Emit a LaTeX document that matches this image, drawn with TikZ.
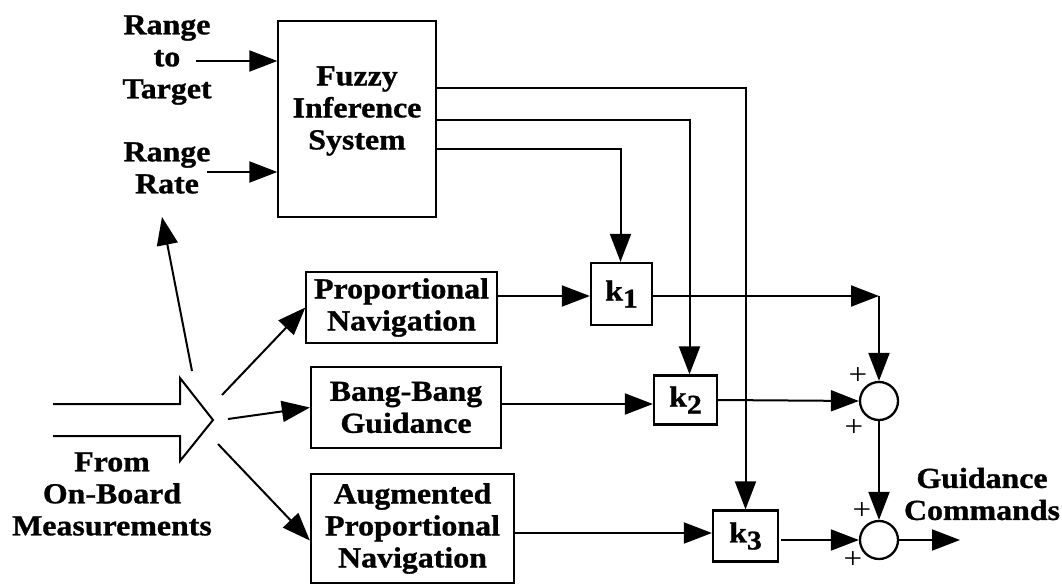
\documentclass[tikz,border=0pt]{standalone}
\usepackage{fontspec}
\setmainfont[FakeStretch=1.1, BoldFeatures={FakeBold=1}]{Liberation Serif}
\usetikzlibrary{arrows.meta,calc}

\newcommand{\kgain}[1]{k\raisebox{-7pt}{\fontsize{27}{27}\selectfont #1}}

\tikzset{
  x=1pt, y=-1pt,
  lbl/.style={font=\fontsize{29}{32}\selectfont\bfseries, align=center, inner sep=0pt},
  thinbox/.style={draw, line width=1.3pt, inner sep=0pt, align=center,
                  font=\fontsize{29}{32}\selectfont\bfseries},
  thickbox/.style={draw, line width=2.3pt, inner sep=0pt, align=center,
                   font=\fontsize{29}{32}\selectfont\bfseries},
  gainbox/.style={draw, line width=2.3pt, inner sep=0pt,
                  font=\fontsize{29}{32}\selectfont\bfseries},
  sumnode/.style={draw, circle, line width=2.3pt, minimum size=38pt, inner sep=0pt},
  plussign/.style={font=\fontsize{30}{30}\selectfont, inner sep=0pt},
  arr/.style={line width=2pt, -{Triangle[length=28pt,width=21pt]}},
}

\begin{document}
\begin{tikzpicture}
\useasboundingbox (0,0) rectangle (1062,585);

% fuzzy inference block
\node[thinbox, minimum width=158pt, minimum height=196pt] (fis) at (357,119) {};
\node[lbl] (fistext) at (357,111) {Fuzzy\\Inference\\System};

% inputs of the fuzzy block
\node[lbl] (rtt) at (167,60) {Range\\to\\Target};
\node[lbl] (rr) at (167,168) {Range\\Rate};
\draw[arr] (196,61) -- (fis.west |- 0,61);
\draw[arr] (207,172) -- (fis.west |- 0,172);

% guidance law blocks
\node[thinbox, minimum width=191pt, minimum height=71pt] (pn) at (401.5,307.5) {Proportional\\Navigation};
\node[thickbox, minimum width=190pt, minimum height=81pt] (bb) at (406,407.5) {Bang-Bang\\Guidance};
\node[thickbox, minimum width=203pt, minimum height=109pt] (apn) at (412.5,528.5) {Augmented\\Proportional\\Navigation};

% gains
\node[gainbox, minimum width=61pt, minimum height=62pt] (k1) at (621.5,294) {\kgain{1}};
\node[gainbox, minimum width=63pt, minimum height=49pt] (k2) at (685.5,400) {\kgain{2}};
\node[gainbox, minimum width=65pt, minimum height=51pt] (k3) at (745.5,536) {\kgain{3}};

% summing junctions
\node[sumnode] (s1) at (879,401) {};
\node[sumnode] (s2) at (879,540) {};
\node[plussign] (p1a) at (858,376) {+};
\node[plussign] (p1b) at (854,428) {+};
\node[plussign] (p2a) at (862,511) {+};
\node[plussign] (p2b) at (853,560) {+};

% measurement input (hollow arrow)
\draw[line width=2pt, line join=miter]
  (53,404) -- (180,404) -- (180,378) -- (213,420) -- (180,461) -- (180,436) -- (53,436);
\coordinate (mUp) at (192,371);
\coordinate (mPN) at (222,395);
\coordinate (mBB) at (228,419);
\coordinate (mAPN) at (218,444);
\coordinate (rrIn) at (162,217);
\node[lbl] (obm) at (112,494) {From\\On-Board\\Measurements};

\draw[arr] (mUp) -- (rrIn);
\draw[arr] (mPN) -- (pn.west);
\draw[arr] (mBB) -- (bb.west);
\draw[arr] (mAPN) -- ($(apn.west)+(0,12)$);

% fuzzy outputs scheduling the gains
\draw[arr, line join=miter] (fis.east |- 0,88) -| (k3.north);
\draw[arr, line join=miter] (fis.east |- 0,120) -| ([xshift=4pt]k2.north);
\draw[arr, line join=miter] (fis.east |- 0,149) -| ([xshift=-1pt]k1.north);

% guidance laws into the gains
\draw[arr] ([xshift=-2pt]pn.east |- 0,296) -- (k1.west |- 0,296);
\draw[arr] (bb.east |- 0,404) -- (k2.west |- 0,404);
\draw[arr] (apn.east |- 0,533) -- (k3.west |- 0,533);

% gains into the summing junctions
\coordinate (c1) at (879,296);
\draw[arr] (k1.east |- c1) -- (c1);
\draw[arr] (c1) -- (s1.north);
\draw[arr] (k2.east |- 0,400) -- (s1.west);
\draw[arr] (s1.south) -- (s2.north);
\draw[arr] ([xshift=2pt]k3.east |- s2.west) -- (s2.west);

% output
\coordinate (out) at (960,540);
\draw[arr] (s2.east) -- (out);
\node[lbl] (gc) at (982,494) {Guidance\\Commands};

\end{tikzpicture}
\end{document}
